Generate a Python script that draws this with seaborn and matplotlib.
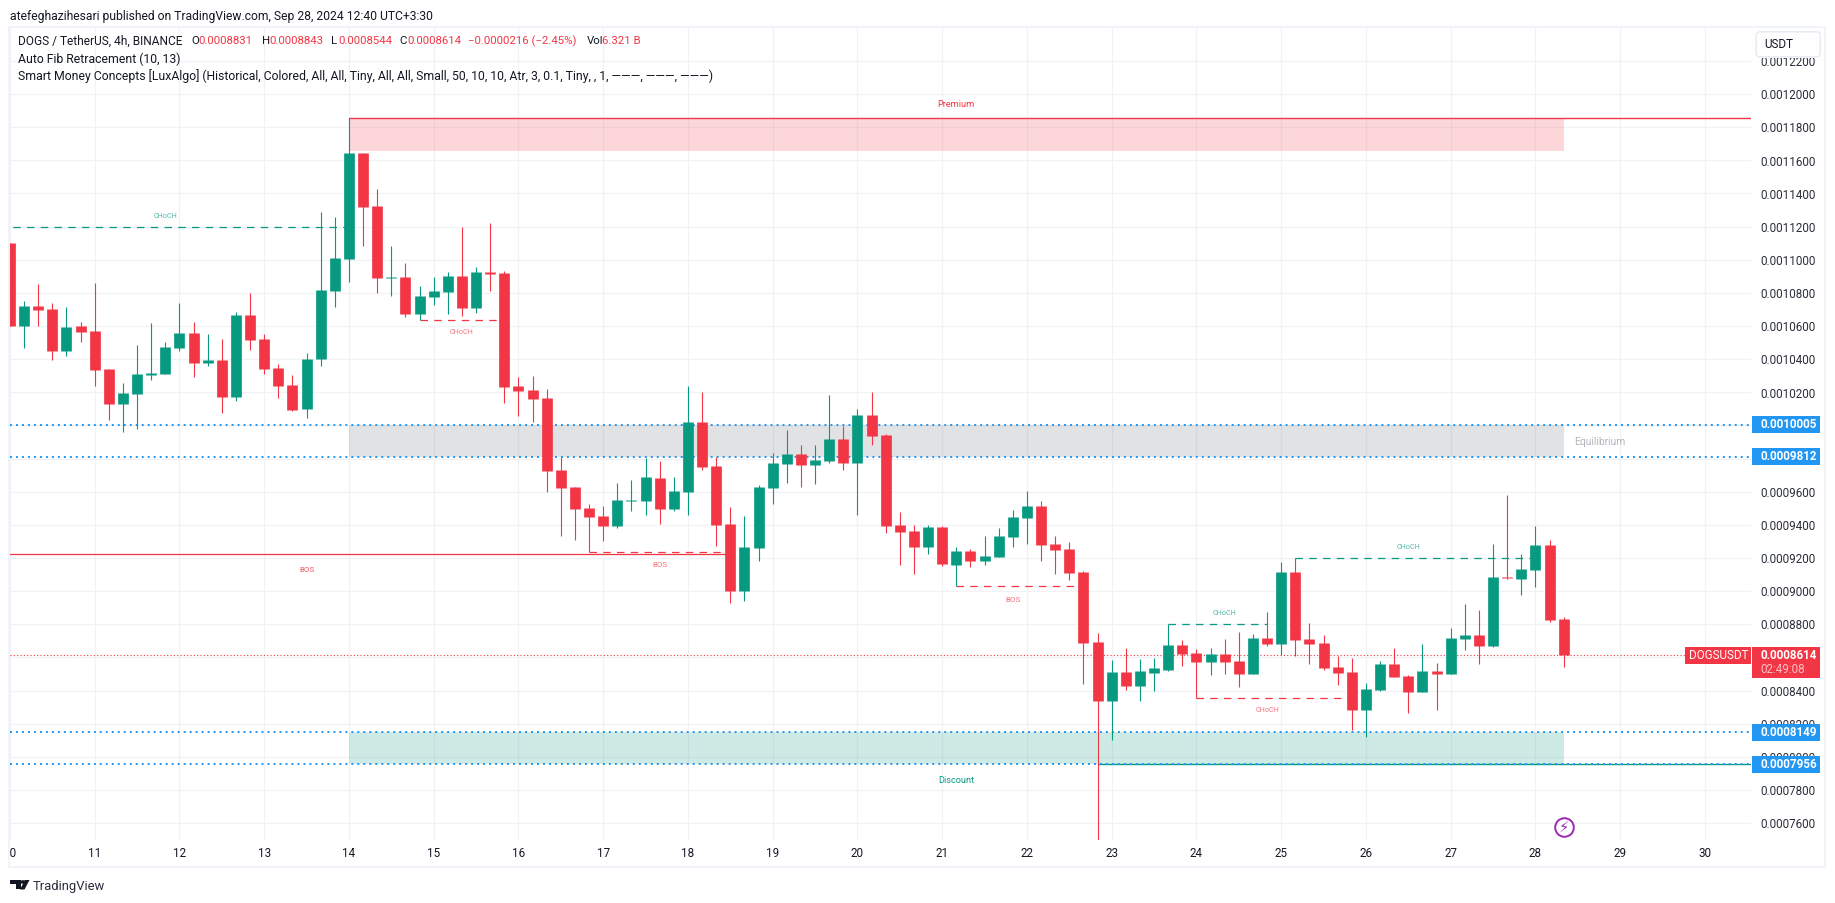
import numpy as np
import pandas as pd
import seaborn as sns
import matplotlib.pyplot as plt
from matplotlib.patches import Rectangle, Polygon, FancyBboxPatch

# prices are in units of 0.0000001
opens = [11102, 10601, 10722, 10704, 10451, 10601, 10571, 10342, 10131, 10191,
         10306, 10312, 10469, 10559, 10378, 10396, 10173, 10668, 10523, 10348,
         10245, 10100, 10402, 10813, 11006, 11646, 11326, 10891, 10897, 10674,
         10776, 10807, 10903, 10710, 10927, 10921, 10239, 10215, 10167, 9732,
         9629, 9503, 9454, 9394, 9545, 9545, 9684, 9497, 9599, 10022,
         9756, 9406, 9002, 9261, 9623, 9768, 9829, 9762, 9786, 9919,
         9774, 10064, 9943, 9400, 9364, 9267, 9388, 9159, 9243, 9183,
         9207, 9328, 9442, 9515, 9285, 9255, 9116, 8694, 8338, 8513,
         8428, 8507, 8525, 8676, 8627, 8573, 8621, 8579, 8500, 8718,
         8682, 9116, 8712, 8688, 8543, 8513, 8283, 8404, 8561, 8488,
         8392, 8519, 8500, 8712, 8736, 8670, 9086, 9074, 9128, 9279,
         8831]
highs = [11102, 10752, 10855, 10740, 10716, 10626, 10861, 10342, 10257, 10487,
         10620, 10505, 10740, 10626, 10553, 10523, 10686, 10801, 10553, 10372,
         10306, 10438, 11290, 11259, 11855, 11646, 11428, 11084, 10982, 10843,
         10897, 10927, 11199, 10957, 11223, 10933, 10294, 10300, 10221, 9810,
         9629, 9527, 9515, 9653, 9672, 9804, 9786, 9690, 10239, 10203,
         9810, 9509, 9454, 9641, 9835, 9973, 9883, 9883, 10185, 9998,
         10100, 10203, 9949, 9478, 9400, 9400, 9394, 9267, 9255, 9334,
         9382, 9491, 9605, 9545, 9334, 9297, 9122, 8748, 8585, 8657,
         8591, 8597, 8800, 8706, 8651, 8657, 8712, 8754, 8742, 8875,
         9177, 9201, 8808, 8736, 8609, 8597, 8446, 8579, 8657, 8494,
         8682, 8567, 8778, 8923, 8887, 9285, 9581, 9225, 9394, 9309,
         8843]
lows = [10601, 10469, 10601, 10396, 10420, 10505, 10239, 10034, 9962, 9980,
        10275, 10312, 10451, 10294, 10360, 10076, 10149, 10457, 10312, 10167,
        10088, 10046, 10360, 10716, 10867, 11084, 10801, 10782, 10656, 10636,
        10728, 10674, 10662, 10680, 10813, 10137, 10058, 10022, 9599, 9334,
        9310, 9235, 9303, 9382, 9484, 9460, 9406, 9484, 9460, 9732,
        9273, 8929, 8941, 9183, 9527, 9653, 9629, 9647, 9774, 9732,
        9460, 9883, 9352, 9159, 9104, 9225, 9152, 9030, 9146, 9159,
        9207, 9267, 9285, 9183, 9104, 9068, 8440, 7495, 8102, 8404,
        8338, 8398, 8519, 8549, 8354, 8494, 8500, 8422, 8500, 8670,
        8615, 8609, 8561, 8525, 8434, 8162, 8120, 8398, 8482, 8265,
        8392, 8283, 8500, 8645, 8561, 8663, 9074, 8977, 9026, 8814,
        8544]
closes = [10601, 10722, 10698, 10451, 10595, 10565, 10336, 10131, 10197, 10312,
          10318, 10475, 10559, 10378, 10396, 10173, 10668, 10517, 10342, 10239,
          10094, 10402, 10819, 11012, 11646, 11320, 10891, 10897, 10674, 10782,
          10813, 10903, 10710, 10927, 10915, 10233, 10209, 10161, 9726, 9623,
          9497, 9448, 9394, 9551, 9551, 9690, 9497, 9605, 10022, 9750,
          9400, 9002, 9267, 9629, 9774, 9829, 9762, 9792, 9919, 9774,
          10064, 9937, 9394, 9358, 9267, 9388, 9165, 9243, 9183, 9213,
          9334, 9448, 9515, 9279, 9249, 9110, 8688, 8338, 8513, 8428,
          8519, 8537, 8676, 8621, 8573, 8621, 8573, 8500, 8718, 8682,
          9116, 8706, 8682, 8537, 8507, 8283, 8410, 8561, 8482, 8392,
          8519, 8500, 8718, 8736, 8670, 9086, 9080, 9134, 9279, 8826,
          8614]

day_labels = ['10', '11', '12', '13', '14', '15', '16', '17', '18', '19', '20',
              '21', '22', '23', '24', '25', '26', '27', '28', '29', '30']
bars_per_day = 6
price_ticks = list(range(7600, 12201, 200))
hidden_ticks = [8600, 9800, 10000]   # sit fully behind the price tags

last_price = 8614
premium_top, premium_bottom = 11855, 11658
equilibrium_top, equilibrium_bottom = 10005, 9812
discount_top, discount_bottom = 8149, 7956
range_start, range_end = 24, 110
discount_line_start = 77

main_bos_price, main_bos_start, main_bos_end = 9223, -9, 51
bos_labels_x = [46, 71]
bos_prices = [9235, 9030]
bos_starts = [41, 67]
bos_ends = [51, 76]

choch_labels_x = [11, 32, 86, 89, 99]
choch_prices = [11197, 10636, 8800, 8354, 9199]
choch_starts = [-2, 29, 82, 84, 91]
choch_ends = [24, 35, 89, 94.6, 107.6]
choch_up = [True, False, True, False, True]

GREEN = '#089981'
RED = '#F23645'
BLUE = '#2196F3'
INK = '#131722'
W, H = 1835, 903


def px(x, y):
    return x / W, 1 - y / H


def px_rect(fig, x0, y0, x1, y1, **kw):
    fx, fy = px(x0, y1)
    fig.add_artist(Rectangle((fx, fy), (x1 - x0) / W, (y1 - y0) / H,
                             transform=fig.transFigure, **kw))


def fig_text(fig, x, y, s, **kw):
    kw.setdefault('color', INK)
    kw.setdefault('fontsize', 8.7)
    kw.setdefault('va', 'center')
    fx, fy = px(x, y)
    fig.text(fx, fy, s, **kw)


def main():
    sns.set_theme(style='white')
    plt.rcParams['font.family'] = ['Roboto', 'DejaVu Sans']

    df = pd.DataFrame({'bar': range(len(opens)), 'open': opens, 'high': highs,
                       'low': lows, 'close': closes})
    df['side'] = np.where(df['close'] >= df['open'], 'up', 'down')
    wicks = df.melt(id_vars=['bar', 'side'], value_vars=['low', 'high'], value_name='price')
    bodies = df.melt(id_vars=['bar', 'side'], value_vars=['open', 'close'], value_name='price')
    palette = {'up': GREEN, 'down': RED}

    fig, ax = plt.subplots(figsize=((W + 0.2) / 100, (H + 0.2) / 100), dpi=100)
    fig.patch.set_facecolor('white')
    ax.set_position([10 / W, 1 - 840 / H, 1741 / W, 812 / H])

    # candles
    sns.lineplot(data=wicks, x='bar', y='price', hue='side', units='bar', estimator=None,
                 sort=False, palette=palette, legend=False, ax=ax, linewidth=0.8,
                 solid_capstyle='butt', zorder=3)
    sns.lineplot(data=bodies, x='bar', y='price', hue='side', units='bar', estimator=None,
                 sort=False, palette=palette, legend=False, ax=ax, linewidth=7.7,
                 solid_capstyle='butt', zorder=4)

    ax.set_xlim(0.247, 123.28)
    ax.set_ylim(7498, 12400)
    ax.set(xlabel='', ylabel='')
    sns.despine(ax=ax, left=True, bottom=True, top=True, right=True)

    ax.set_xticks([i * bars_per_day for i in range(len(day_labels))])
    ax.set_xticklabels(day_labels, fontsize=8.4, color=INK)
    ax.set_yticks(price_ticks)
    ax.set_yticklabels(['' if p in hidden_ticks else f'{p * 1e-7:.7f}' for p in price_ticks],
                       fontsize=8.4, color='#2A2E39')
    ax.yaxis.tick_right()
    ax.tick_params(axis='y', length=0, pad=6.5, right=False)
    ax.tick_params(axis='x', length=0, pad=5, bottom=False)
    ax.set_axisbelow(True)
    ax.grid(True, color='#F1F2F5', linewidth=0.9)

    # zones
    ax.fill_between([range_start, range_end], premium_bottom, premium_top,
                    color=RED, alpha=0.2, linewidth=0, zorder=1)
    ax.fill_between([range_start, range_end], equilibrium_bottom, equilibrium_top,
                    color='#787B86', alpha=0.22, linewidth=0, zorder=1)
    ax.fill_between([range_start, range_end], discount_bottom, discount_top,
                    color=GREEN, alpha=0.2, linewidth=0, zorder=1)
    xr = ax.get_xlim()[1]
    ax.plot([range_start, xr], [premium_top, premium_top], color=RED, lw=1.0, zorder=2)
    ax.plot([discount_line_start, xr], [discount_bottom, discount_bottom], color=GREEN, lw=1.0, zorder=2)

    # fib levels
    for lvl in [equilibrium_top, equilibrium_bottom, discount_top, discount_bottom]:
        ax.axhline(lvl, color=BLUE, lw=1.4, linestyle=(0, (1, 2.08)), dash_capstyle='butt', zorder=2.2)
    ax.axhline(last_price, color=RED, lw=0.8, linestyle=(0, (1, 2)), dash_capstyle='butt', zorder=2.2)

    # structure lines
    ax.plot([main_bos_start, main_bos_end], [main_bos_price, main_bos_price], color=RED, lw=0.9, zorder=2)
    ax.text((main_bos_start + main_bos_end) / 2, main_bos_price - 92, 'BOS', color=RED,
            alpha=0.85, fontsize=5.8, ha='center', va='center')
    for lx, p, s, e, off in zip(bos_labels_x, bos_prices, bos_starts, bos_ends, [-74, -85]):
        ax.plot([s, e], [p, p], color=RED, lw=0.9, linestyle=(0, (6, 5)), zorder=2)
        ax.text(lx, p + off, 'BOS', color=RED, alpha=0.7, fontsize=5.8, ha='center', va='center')
    for lx, p, s, e, up in zip(choch_labels_x, choch_prices, choch_starts, choch_ends, choch_up):
        c = GREEN if up else RED
        ax.plot([s, e], [p, p], color=c, lw=0.9, linestyle=(0, (6, 5)), zorder=2)
        ax.text(lx, p + (68 if up else -76), 'CHoCH', color=c, alpha=0.7, fontsize=5.2,
                ha='center', va='center')

    ax.text((range_start + range_end) / 2, premium_top + 85, 'Premium', color=RED,
            fontsize=6.6, ha='center', va='center')
    ax.text((range_start + range_end) / 2, discount_bottom - 95, 'Discount', color=GREEN,
            fontsize=6.6, ha='center', va='center')
    ax.text(range_end + 0.75, (equilibrium_top + equilibrium_bottom) / 2 - 10, 'Equilibrium', color='#B2B5BE',
            fontsize=7.4, ha='left', va='center')

    # price tags on the axis
    tr = ax.get_yaxis_transform()
    tag_x, tag_w = 1.0006, 68 / 1741
    half = 8.5 * 6.037
    for lvl in [equilibrium_top, equilibrium_bottom, discount_top, discount_bottom]:
        ax.add_patch(Rectangle((tag_x, lvl - half), tag_w, 2 * half, transform=tr, color=BLUE,
                               clip_on=False, zorder=10, linewidth=0))
        ax.text(tag_x + 8 / 1741, lvl, f'{lvl * 1e-7:.7f}', transform=tr, color='white', fontsize=8.4,
                fontweight='bold', va='center', ha='left', zorder=11)
    ax.add_patch(Rectangle((tag_x, last_price - 23 * 6.037), tag_w, (23 + 8.5) * 6.037, transform=tr,
                           color=RED, clip_on=False, zorder=10, linewidth=0))
    ax.text(tag_x + 8 / 1741, last_price, f'{last_price * 1e-7:.7f}', transform=tr, color='white',
            fontsize=8.4, fontweight='bold', va='center', ha='left', zorder=11)
    ax.text(tag_x + 8 / 1741, last_price - 14 * 6.037, '02:49:08', transform=tr, color='#FBC1C7',
            fontsize=8.4, va='center', ha='left', zorder=11)
    ax.add_patch(Rectangle((1 - 66 / 1741, last_price - half), 66 / 1741, 2 * half, transform=tr,
                           color=RED, clip_on=False, zorder=10, linewidth=0))
    ax.text(1 - 62 / 1741, last_price, 'DOGSUSDT', transform=tr, color='white', fontsize=8.4,
            va='center', ha='left', zorder=11)

    # lightning mark
    ax.plot([range_end], [7577], marker='o', ms=13.4, mfc='white', mec='#9C27B0', mew=1.4, zorder=6)
    ax.text(range_end, 7577, '\u26a1', color='#9C27B0', fontsize=10.5, ha='center', va='center',
            family='DejaVu Sans', zorder=7)

    # outer frame and cover for the clipped first day label
    px_rect(fig, 0, 838, 9, 868, color='white', linewidth=0)
    px_rect(fig, 1751, 27, 1825, 58, color='white', linewidth=0)
    frame = '#F0F3FA'
    px_rect(fig, 8, 26, 10, 868, color=frame, linewidth=0)
    px_rect(fig, 8, 26, 1826, 28, color=frame, linewidth=0)
    px_rect(fig, 1824, 26, 1826, 868, color=frame, linewidth=0)
    px_rect(fig, 8, 866, 1826, 868, color=frame, linewidth=0)
    fig.add_artist(FancyBboxPatch((1756 / W, 1 - 57 / H), 64 / W, 25 / H, transform=fig.transFigure,
                                  boxstyle='round,pad=0,rounding_size=0.002', mutation_aspect=2,
                                  facecolor='white', edgecolor='#E6E9F2', linewidth=1))
    fig_text(fig, 1764, 44, 'USDT', fontsize=8.4)

    # header text
    fig_text(fig, 10, 16, 'atefeghazihesari published on TradingView.com, Sep 28, 2024 12:40 UTC+3:30', fontsize=8.75)
    y = 41
    fig_text(fig, 18, y, 'DOGS / TetherUS, 4h, BINANCE', fontsize=8.6)
    for xp, s, c in [(191, 'O', INK), (198, '0.0008831', RED), (262, 'H', INK), (269, '0.0008843', RED),
                     (331, 'L', INK), (338, '0.0008544', RED), (399, 'C', INK), (407, '0.0008614', RED),
                     (468, '\u22120.0000216 (\u22122.45%)', RED), (587, 'Vol', INK), (602, '6.321 B', RED)]:
        fig_text(fig, xp, y, s, color=c, fontsize=8.2)
    fig_text(fig, 18, 59, 'Auto Fib Retracement (10, 13)', fontsize=8.8)
    fig_text(fig, 18, 76, 'Smart Money Concepts [LuxAlgo] (Historical, Colored, All, All, Tiny, All, All, '
                          'Small, 50, 10, 10, Atr, 3, 0.1, Tiny, , 1, \u2014\u2014\u2014, \u2014\u2014\u2014, \u2014\u2014\u2014)',
             fontsize=8.8)

    # footer logo
    logo = [[(10, 880), (21, 880), (21, 889.5), (16, 889.5), (16, 884), (10, 884)],
            [(25, 880), (29.5, 880), (24.5, 889.5), (20, 889.5)]]
    for pts in logo:
        fig.add_artist(Polygon([px(a, b) for a, b in pts], closed=True, transform=fig.transFigure,
                               facecolor=INK, linewidth=0))
    fig.add_artist(plt.Circle(px(23, 882), 0.0012, transform=fig.transFigure, color=INK))
    fig_text(fig, 33, 886, 'TradingView', fontsize=9.4, color='#2A2E39')

    fig.savefig('out.png', dpi=100, facecolor='white')


if __name__ == '__main__':
    main()
